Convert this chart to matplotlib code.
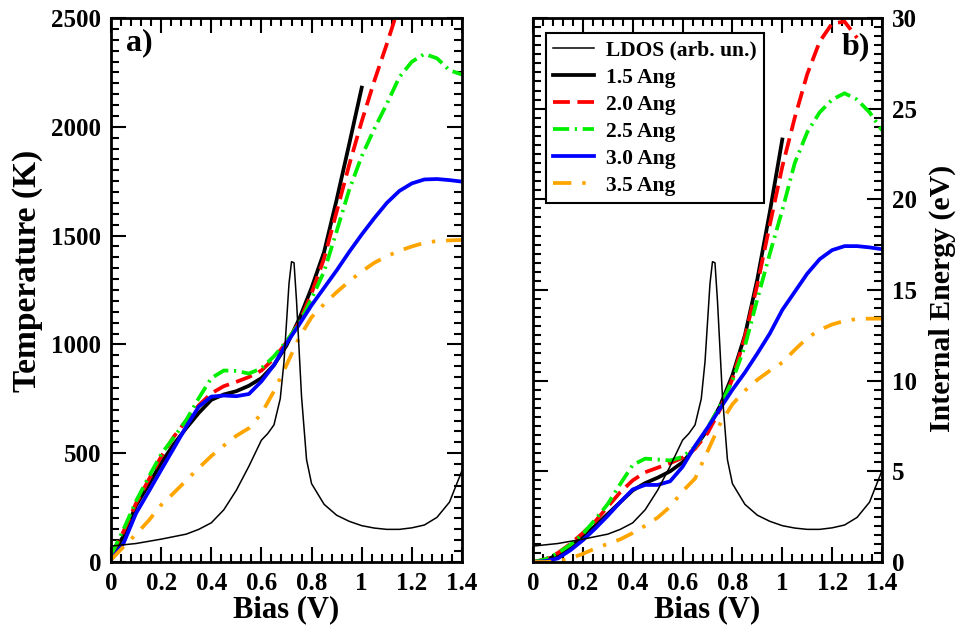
import matplotlib.pyplot as plt
from matplotlib.ticker import MultipleLocator, FuncFormatter

plt.rcParams['font.family'] = ['Liberation Serif', 'DejaVu Serif']
plt.rcParams['font.weight'] = 'bold'
plt.rcParams['axes.labelweight'] = 'bold'

# bias grid (V)
bias = [0.0, 0.05, 0.1, 0.15, 0.2, 0.25, 0.3, 0.35, 0.4, 0.45, 0.5, 0.55, 0.6, 0.65,
        0.7, 0.75, 0.8, 0.85, 0.9, 0.95, 1.0, 1.05, 1.1, 1.15, 1.2, 1.25, 1.3, 1.35, 1.4]

# panel a) temperature (K)
temp_15 = [20, 120, 260, 355, 455, 540, 615, 685, 745, 770, 785, 810, 845, 905, 995,
           1115, 1260, 1425, 1665, 1920, 2180]
temp_20 = [30, 140, 270, 377, 484, 575, 650, 720, 775, 808, 828, 850, 880, 935, 1010,
           1100, 1235, 1395, 1610, 1825, 2025, 2210, 2380, 2560]
temp_25 = [30, 150, 280, 390, 495, 572, 652, 753, 845, 880, 878, 866, 890, 945, 1015,
           1095, 1210, 1335, 1520, 1710, 1865, 1990, 2105, 2228, 2299, 2335, 2315, 2260, 2240]
temp_30 = [10, 86, 224, 323, 423, 522, 622, 714, 760, 765, 762, 772, 830, 905, 1005,
           1090, 1180, 1260, 1340, 1425, 1505, 1580, 1650, 1705, 1740, 1758, 1760, 1755, 1748]
temp_35 = [10, 70, 128, 190, 262, 317, 375, 432, 487, 535, 580, 615, 682, 785, 905,
           1030, 1125, 1185, 1240, 1290, 1335, 1375, 1405, 1430, 1450, 1467, 1475, 1478, 1480]

# panel b) internal energy (eV)
ener_15 = [0, 0.1, 0.4, 0.85, 1.4, 2.0, 2.65, 3.3, 3.95, 4.35, 4.65, 5.0, 5.5, 6.3, 7.3,
           8.6, 10.3, 12.5, 15.6, 19.3, 23.3]
ener_20 = [0, 0.15, 0.5, 1.0, 1.6, 2.25, 3.05, 3.85, 4.5, 4.95, 5.2, 5.45, 5.75, 6.25, 7.1,
           8.4, 10.1, 12.4, 15.3, 18.6, 21.8, 24.5, 26.9, 28.7, 29.7, 29.8, 28.9]
ener_25 = [0, 0.15, 0.5, 0.95, 1.55, 2.35, 3.2, 4.3, 5.35, 5.7, 5.65, 5.6, 5.8, 6.35, 7.4,
           8.6, 10.0, 11.9, 14.5, 17.0, 19.4, 22.0, 23.7, 24.8, 25.5, 25.85, 25.5, 24.8, 23.8]
ener_30 = [0, 0.05, 0.2, 0.65, 1.2, 1.85, 2.55, 3.3, 4.0, 4.25, 4.25, 4.45, 5.25, 6.4, 7.4,
           8.45, 9.5, 10.45, 11.5, 12.6, 13.9, 14.9, 15.9, 16.7, 17.2, 17.42, 17.42, 17.35, 17.25]
ener_35 = [0, 0.0, 0.05, 0.2, 0.45, 0.75, 1.0, 1.25, 1.6, 2.0, 2.45, 3.05, 3.9, 4.6, 6.1,
           7.6, 8.7, 9.45, 10.05, 10.55, 11.0, 11.7, 12.35, 12.8, 13.1, 13.3, 13.4, 13.42, 13.42]

# LDOS (arb. un.)
ldos_bias = [0.0, 0.1, 0.2, 0.3, 0.35, 0.4, 0.45, 0.5, 0.55, 0.6, 0.625, 0.65, 0.675, 0.69,
             0.7, 0.71, 0.72, 0.73, 0.74, 0.75, 0.76, 0.78, 0.8, 0.85, 0.9, 0.95, 1.0,
             1.05, 1.1, 1.15, 1.2, 1.25, 1.3, 1.35, 1.4]
ldos = [0.073, 0.085, 0.105, 0.128, 0.15, 0.18, 0.24, 0.33, 0.44, 0.56, 0.59, 0.63, 0.75,
        0.92, 1.1, 1.28, 1.38, 1.375, 1.2, 0.98, 0.76, 0.47, 0.36, 0.265, 0.215, 0.187,
        0.167, 0.156, 0.15, 0.15, 0.157, 0.17, 0.205, 0.275, 0.42]

labels = ['1.5 Ang', '2.0 Ang', '2.5 Ang', '3.0 Ang', '3.5 Ang']
colors = ['black', 'red', '#00ee00', 'blue', 'orange']
styles = ['-', (0, (4.5, 2)), (0, (4.3, 1.5, 0.6, 1.5)), '-', (0, (4.9, 2.9, 0.9, 2.9))]

fig = plt.figure(figsize=(9.59, 6.26), dpi=100)
ax1 = fig.add_axes([111 / 959, 1 - 562 / 626, 351 / 959, 544 / 626])
ax2 = fig.add_axes([533 / 959, 1 - 562 / 626, 349 / 959, 544 / 626])


def style_axes(ax, ymajor, yminor):
    ax.set_xlim(0, 1.4)
    ax.xaxis.set_major_locator(MultipleLocator(0.2))
    ax.xaxis.set_minor_locator(MultipleLocator(0.04))
    ax.xaxis.set_major_formatter(FuncFormatter(lambda v, p: '%g' % round(v, 2)))
    ax.yaxis.set_major_locator(MultipleLocator(ymajor))
    ax.yaxis.set_minor_locator(MultipleLocator(yminor))
    ax.tick_params(which='both', direction='in', top=True, bottom=True, left=True,
                   right=True, width=1.5, labelsize=18)
    ax.tick_params(which='major', length=11)
    ax.tick_params(which='minor', length=5.5)
    ax.tick_params(axis='x', pad=7)
    ax.tick_params(axis='y', pad=7)
    for s in ax.spines.values():
        s.set_linewidth(2)
    ax.set_xlabel('Bias (V)', fontsize=22, labelpad=0)


temps = [temp_15, temp_20, temp_25, temp_30, temp_35]
eners = [ener_15, ener_20, ener_25, ener_30, ener_35]

lax1 = ax1.twinx()
lax1.set_ylim(0, 2.5)
lax1.axis('off')
lax1.plot(ldos_bias, ldos, color='black', lw=1.1)
for t, c, ls in zip(temps, colors, styles):
    ax1.plot(bias[:len(t)], t, color=c, ls=ls, lw=2.7)
ax1.set_ylim(0, 2500)
style_axes(ax1, 500, 50)
ax1.set_ylabel('Temperature (K)', fontsize=24)
ax1.yaxis.set_label_coords(-0.195, 0.535)
ax1.text(0.042, 0.955, 'a)', transform=ax1.transAxes, fontsize=23, va='center')

lax2 = ax2.twinx()
lax2.set_ylim(0, 2.5)
lax2.axis('off')
hl = lax2.plot(ldos_bias, ldos, color='black', lw=1.1, label='LDOS (arb. un.)')
handles = list(hl)
for e, c, ls, lab in zip(eners, colors, styles, labels):
    handles += ax2.plot(bias[:len(e)], e, color=c, ls=ls, lw=2.7, label=lab)
ax2.set_ylim(0, 30)
style_axes(ax2, 5, 0.5)
ax2.tick_params(labelleft=False, labelright=True)
ax2.yaxis.set_label_position('right')
ax2.set_ylabel('Internal Energy (eV)', fontsize=21.5)
ax2.yaxis.set_label_coords(1.135, 0.485)
ax2.text(0.965, 0.947, 'b)', transform=ax2.transAxes, fontsize=23, va='center', ha='right')

leg = lax2.legend(handles=handles, loc='upper left', bbox_to_anchor=(0.037, 0.972),
                  fontsize=15.5, frameon=True, fancybox=False, framealpha=1,
                  edgecolor='black', handlelength=1.9, handletextpad=0.55,
                  labelspacing=0.32, borderpad=0.35, borderaxespad=0)
leg.get_frame().set_linewidth(1.5)

fig.savefig('out.png', dpi=100)
